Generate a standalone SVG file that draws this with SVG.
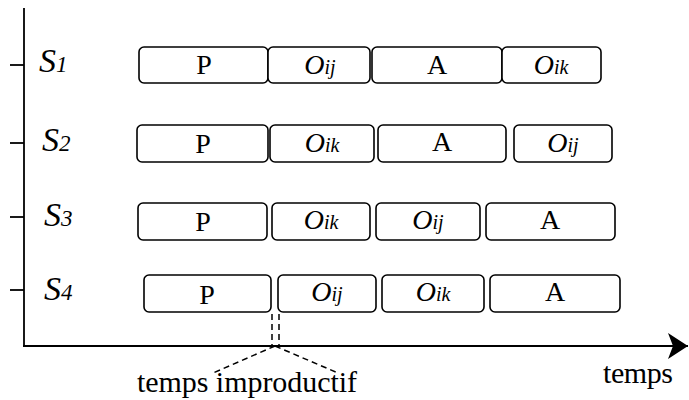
<svg xmlns="http://www.w3.org/2000/svg" width="689" height="400" viewBox="0 0 689 400">
<style>
.box{fill:#fff;stroke:#000;stroke-width:1.6}
.ax{stroke:#000;stroke-width:1.8;fill:none}
.dash{stroke:#000;stroke-width:1.5;fill:none;stroke-dasharray:6 4}
.lbl{font-family:"Liberation Serif","Times New Roman",serif;font-size:28px;fill:#000;text-anchor:middle}
.it{font-style:italic}
.sub{font-size:20px}
.s{font-family:"Liberation Serif","Times New Roman",serif;font-size:34px;font-style:italic;fill:#000}
.ssub{font-size:23px}
.t{font-family:"Liberation Serif","Times New Roman",serif;font-size:30px;fill:#000}
</style>
<defs>
<marker id="arr" markerWidth="22" markerHeight="26" refX="20" refY="13" orient="auto" markerUnits="userSpaceOnUse">
<path d="M0,0 L20,13 L0,26 L5,13 Z" fill="#000"/>
</marker>
</defs>
<g id="connectors">
<line class="ax" x1="24" y1="8" x2="24" y2="347"/>
<line class="ax" x1="23" y1="346" x2="688" y2="346" marker-end="url(#arr)"/>
<line class="ax" x1="10" y1="65" x2="24" y2="65"/>
<line class="ax" x1="10" y1="143" x2="24" y2="143"/>
<line class="ax" x1="10" y1="217" x2="24" y2="217"/>
<line class="ax" x1="10" y1="290" x2="24" y2="290"/>
<line class="dash" x1="272" y1="314" x2="272" y2="346"/>
<line class="dash" x1="279" y1="314" x2="279" y2="346"/>
<line class="dash" x1="275" y1="346" x2="213" y2="373"/>
<line class="dash" x1="275" y1="346" x2="338" y2="373"/>
</g>
<g id="S1"><text class="s" x="39" y="72">S<tspan class="ssub">1</tspan></text></g>
<g id="S2"><text class="s" x="42" y="151">S<tspan class="ssub">2</tspan></text></g>
<g id="S3"><text class="s" x="44" y="226">S<tspan class="ssub">3</tspan></text></g>
<g id="S4"><text class="s" x="44" y="300">S<tspan class="ssub">4</tspan></text></g>
<g id="row1">
<rect class="box" x="139" y="47" width="129" height="36" rx="5"/><text class="lbl" x="204" y="74">P</text>
<rect class="box" x="268" y="47" width="102" height="36" rx="5"/><text class="lbl it" x="320" y="74">O<tspan class="sub">ij</tspan></text>
<rect class="box" x="372" y="47" width="130" height="36" rx="5"/><text class="lbl" x="437" y="74">A</text>
<rect class="box" x="502" y="47" width="99" height="36" rx="5"/><text class="lbl it" x="551" y="74">O<tspan class="sub">ik</tspan></text>
</g>
<g id="row2">
<rect class="box" x="137" y="125" width="131" height="37" rx="5"/><text class="lbl" x="203" y="153">P</text>
<rect class="box" x="270" y="125" width="104" height="37" rx="5"/><text class="lbl it" x="322" y="152">O<tspan class="sub">ik</tspan></text>
<rect class="box" x="378" y="125" width="128" height="37" rx="5"/><text class="lbl" x="442" y="151">A</text>
<rect class="box" x="514" y="125" width="98" height="37" rx="5"/><text class="lbl it" x="563" y="152">O<tspan class="sub">ij</tspan></text>
</g>
<g id="row3">
<rect class="box" x="138" y="203" width="129" height="37" rx="5"/><text class="lbl" x="203" y="231">P</text>
<rect class="box" x="272" y="203" width="98" height="37" rx="5"/><text class="lbl it" x="321" y="229">O<tspan class="sub">ik</tspan></text>
<rect class="box" x="376" y="203" width="104" height="37" rx="5"/><text class="lbl it" x="428" y="229">O<tspan class="sub">ij</tspan></text>
<rect class="box" x="486" y="203" width="129" height="37" rx="5"/><text class="lbl" x="550" y="229">A</text>
</g>
<g id="row4">
<rect class="box" x="144" y="275" width="127" height="37" rx="5"/><text class="lbl" x="207" y="304">P</text>
<rect class="box" x="278" y="275" width="98" height="37" rx="5"/><text class="lbl it" x="327" y="301">O<tspan class="sub">ij</tspan></text>
<rect class="box" x="382" y="275" width="102" height="37" rx="5"/><text class="lbl it" x="433" y="301">O<tspan class="sub">ik</tspan></text>
<rect class="box" x="490" y="275" width="130" height="37" rx="5"/><text class="lbl" x="555" y="301">A</text>
</g>
<g id="labels">
<text class="t" x="137" y="392" textLength="220" lengthAdjust="spacing">temps improductif</text>
<text class="t" x="603" y="383" textLength="70" lengthAdjust="spacing">temps</text>
</g>
</svg>
